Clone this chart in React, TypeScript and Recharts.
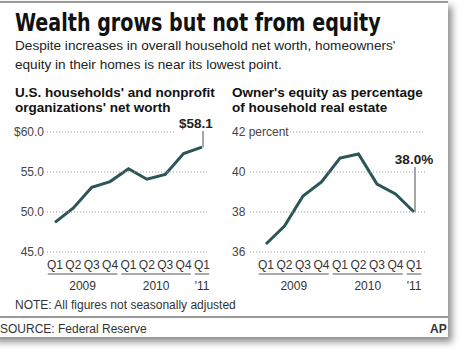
import { LineChart, Line, XAxis, YAxis } from "recharts";

const quarters = ["Q1", "Q2", "Q3", "Q4", "Q1", "Q2", "Q3", "Q4", "Q1"];
const quarterKeys = ["09Q1", "09Q2", "09Q3", "09Q4", "10Q1", "10Q2", "10Q3", "10Q4", "11Q1"];
const yearGroups = [
  { label: "2009", count: 4 },
  { label: "2010", count: 4 },
  { label: "'11", count: 1 },
];

// trillions of dollars
const netWorth = [48.7, 50.5, 53.1, 53.8, 55.4, 54.1, 54.7, 57.3, 58.1];
const netWorthTicks = [45, 50, 55, 60];

// percent
const ownersEquity = [36.4, 37.3, 38.8, 39.5, 40.7, 40.9, 39.4, 38.9, 38.0];
const equityTicks = [36, 38, 40, 42];

const leftData = quarterKeys.map((k, i) => ({ k, v: netWorth[i] }));
const rightData = quarterKeys.map((k, i) => ({ k, v: ownersEquity[i] }));

const FONT = "'Liberation Sans', Arial, Helvetica, sans-serif";
const LINE = "#2c5558";
const GRID = "#9a9a9a";

function groupInfo(index: number) {
  let start = 0;
  for (const g of yearGroups) {
    if (index < start + g.count) return { g, pos: index - start };
    start += g.count;
  }
  return null;
}

function makeXTick(step: number) {
  return (props: any) => {
    const { x, y, payload } = props;
    const idx = payload.index;
    const info = groupInfo(idx);
    if (!info) return null;
    const { g, pos } = info;
    const x1 = x - step / 2 + (pos === 0 ? 2 : 0);
    const x2 = x + step / 2 - (pos === g.count - 1 ? 2 : 0);
    let yearX: number | null = null;
    if (g.count === 1) yearX = x;
    else if (pos === g.count / 2 - 1) yearX = x + step / 2;
    return (
      <g>
        <text x={x} y={y + 9} textAnchor="middle" fontSize={12} fill="#333" fontFamily={FONT}>
          {quarters[idx]}
        </text>
        <line x1={x1} x2={x2} y1={y + 14} y2={y + 14} stroke="#555" strokeWidth={1} />
        {yearX !== null && (
          <text x={yearX} y={y + 30} textAnchor="middle" fontSize={12} fill="#333" fontFamily={FONT}>
            {g.label}
          </text>
        )}
      </g>
    );
  };
}

function makeYTick(opts: {
  labelX: number;
  anchor: "start" | "end";
  format: (v: number) => string;
  lineStart: (v: number) => number;
  lineEnd: (v: number) => number;
}) {
  return (props: any) => {
    const { y, payload } = props;
    const v = payload.value;
    return (
      <g>
        <text x={opts.labelX} y={y + 4} textAnchor={opts.anchor} fontSize={12} fill="#444" fontFamily={FONT}>
          {opts.format(v)}
        </text>
        <line
          x1={opts.lineStart(v)}
          x2={opts.lineEnd(v)}
          y1={y}
          y2={y}
          stroke={GRID}
          strokeWidth={1}
          strokeDasharray="1 2"
        />
      </g>
    );
  };
}

function makeLastDot(label: string, dx: number, labelY: number) {
  return (props: any) => {
    const { cx, cy, index } = props;
    if (index !== quarterKeys.length - 1) return <g key={index} />;
    return (
      <g key={index}>
        <line x1={cx + 1} x2={cx + 1} y1={labelY + 3} y2={cy} stroke="#888" strokeWidth={1.5} />
        <text x={cx + dx} y={labelY} textAnchor="middle" fontSize={13.5} fontWeight="bold" fill="#222" fontFamily={FONT}>
          {label}
        </text>
      </g>
    );
  };
}

function NetWorthChart() {
  return (
    <LineChart width={225} height={190} data={leftData} margin={{ top: 22, right: 18, bottom: 0, left: 5 }}>
      <XAxis
        dataKey="k"
        axisLine={false}
        tickLine={false}
        interval={0}
        height={48}
        padding={{ left: 10, right: 5 }}
        tick={makeXTick(18.4)}
      />
      <YAxis
        domain={[45, 60]}
        ticks={netWorthTicks}
        axisLine={false}
        tickLine={false}
        width={40}
        tick={makeYTick({
          labelX: 44,
          anchor: "end",
          format: (v) => (v === 60 ? "$60.0" : v.toFixed(1)),
          lineStart: () => 47,
          lineEnd: (v) => (v === 60 ? 175 : 207),
        })}
      />
      <Line
        dataKey="v"
        stroke={LINE}
        strokeWidth={3}
        dot={makeLastDot("$58.1", -6, 18)}
        activeDot={false}
        isAnimationActive={false}
      />
    </LineChart>
  );
}

function EquityChart() {
  return (
    <LineChart width={225} height={190} data={rightData} margin={{ top: 22, right: 25, bottom: 0, left: 5 }}>
      <XAxis
        dataKey="k"
        axisLine={false}
        tickLine={false}
        interval={0}
        height={48}
        padding={{ left: 16, right: 11 }}
        tick={makeXTick(18.5)}
      />
      <YAxis
        domain={[36, 42]}
        ticks={equityTicks}
        axisLine={false}
        tickLine={false}
        width={20}
        tick={makeYTick({
          labelX: 7,
          anchor: "start",
          format: (v) => (v === 42 ? "42 percent" : String(v)),
          lineStart: (v) => (v === 42 ? 65 : 25),
          lineEnd: () => 200,
        })}
      />
      <Line
        dataKey="v"
        stroke={LINE}
        strokeWidth={3}
        dot={makeLastDot("38.0%", 0, 54)}
        activeDot={false}
        isAnimationActive={false}
      />
    </LineChart>
  );
}

export default function App() {
  const text = (style: React.CSSProperties, children: React.ReactNode) => (
    <div style={{ position: "absolute", whiteSpace: "nowrap", fontFamily: FONT, color: "#222", ...style }}>{children}</div>
  );
  return (
    <div style={{ position: "absolute", left: 0, top: 0, width: 464, height: 352, background: "#fff", overflow: "hidden" }}>
      <div
        style={{
          position: "absolute",
          left: -10,
          top: 1,
          width: 458,
          height: 334,
          background: "#fff",
          boxShadow: "4px 5px 7px rgba(0,0,0,0.45)",
          borderTop: "2px solid #999",
        }}
      />
      {text(
        {
          left: 15,
          top: 8,
          fontSize: 25,
          fontWeight: "bold",
          fontFamily: "'Liberation Sans Narrow', 'DejaVu Sans Condensed', sans-serif",
          color: "#111",
          transform: "scaleX(0.85)",
          transformOrigin: "left top",
        },
        "Wealth grows but not from equity"
      )}
      {text({ left: 15, top: 36, fontSize: 13.6, lineHeight: "19px", color: "#222" }, (
        <>
          Despite increases in overall household net worth, homeowners'
          <br />
          equity in their homes is near its lowest point.
        </>
      ))}
      {text({ left: 15, top: 85, fontSize: 13.5, fontWeight: "bold", lineHeight: "15px", color: "#111" }, (
        <>
          U.S. households' and nonprofit
          <br />
          organizations' net worth
        </>
      ))}
      {text({ left: 232, top: 85, fontSize: 13.5, fontWeight: "bold", lineHeight: "15px", color: "#111" }, (
        <>
          Owner's equity as percentage
          <br />
          of household real estate
        </>
      ))}
      <div style={{ position: "absolute", left: 0, top: 110 }}>
        <NetWorthChart />
      </div>
      <div style={{ position: "absolute", left: 225, top: 110 }}>
        <EquityChart />
      </div>
      {text({ left: 15, top: 298, fontSize: 12, color: "#333" }, "NOTE: All figures not seasonally adjusted")}
      <div style={{ position: "absolute", left: 0, top: 316, width: 448, height: 2, background: "#999" }} />
      {text({ left: 0, top: 322, fontSize: 12, color: "#333" }, "SOURCE: Federal Reserve")}
      {text({ left: 430, top: 322, fontSize: 12, color: "#333", fontWeight: "bold" }, "AP")}
    </div>
  );
}
